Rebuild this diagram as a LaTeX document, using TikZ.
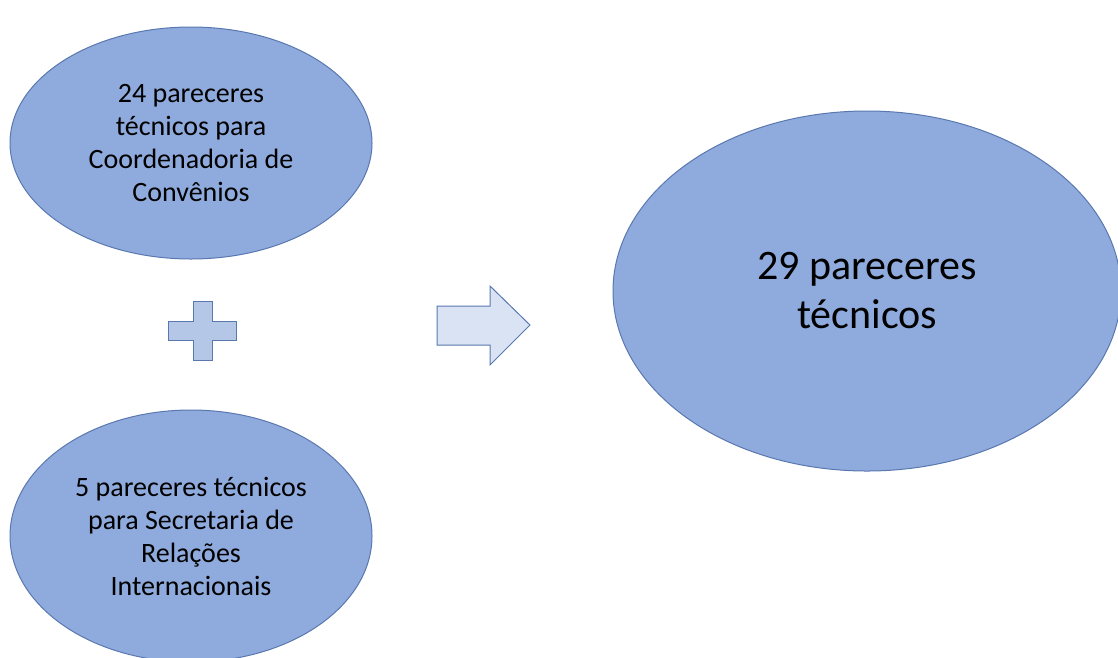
\documentclass[tikz,border=0pt]{standalone}
\usepackage{fontspec}
\setmainfont{Carlito}
\usetikzlibrary{shapes.geometric}
\definecolor{ellfill}{HTML}{8FAADC}
\definecolor{ellline}{HTML}{5A78B0}
\definecolor{plusfill}{HTML}{B4C7E7}
\definecolor{arrfill}{HTML}{DAE3F3}
\tikzset{
	bubble/.style={ellipse,draw=ellline,fill=ellfill,line width=1pt,inner sep=0pt,align=center},
	symb/.style={draw=ellline,line width=1pt}
}
\begin{document}
\begin{tikzpicture}[x=1pt,y=-1pt]
	\useasboundingbox (0,0) rectangle (1118,657);
	\clip (0,0) rectangle (1118,657);
	% left side
	\node[bubble,minimum width=362pt,minimum height=232pt,font=\fontsize{28}{33}\selectfont] (conv) at (191,143) {24 pareceres\\técnicos para\\Coordenadoria de\\Convênios};
	\node[bubble,minimum width=362pt,minimum height=252pt,font=\fontsize{28}{33}\selectfont] (sri) at (191,536) {5 pareceres técnicos\\para Secretaria de\\Relações\\Internacionais};
	% plus sign
	\draw[symb,fill=plusfill] (193,301)--(212,301)--(212,321)--(236,321)--(236,340)--(212,340)--(212,360)--(193,360)--(193,340)--(168,340)--(168,321)--(193,321)--cycle;
	% block arrow
	\draw[symb,fill=arrfill] (437,306)--(490,306)--(490,286)--(530,325)--(490,365)--(490,345)--(437,345)--cycle;
	% result
	\node[bubble,minimum width=508pt,minimum height=360pt,font=\fontsize{42}{49}\selectfont] (total) at (867,291) {29 pareceres\\técnicos};
\end{tikzpicture}
\end{document}
